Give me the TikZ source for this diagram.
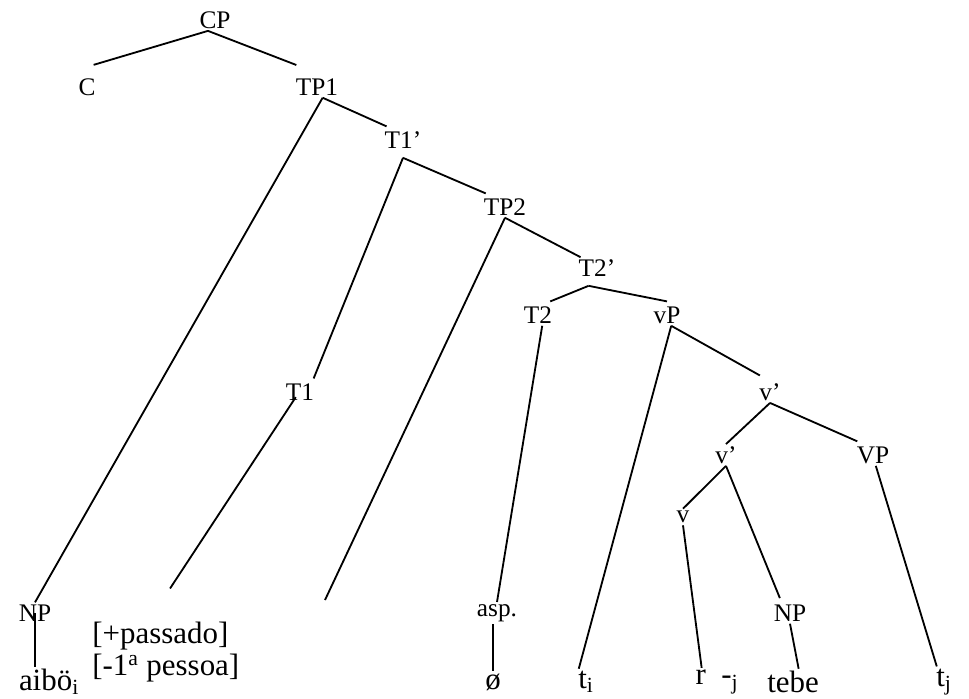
\documentclass[tikz,border=0pt]{standalone}
\usepackage{fontspec}
\setmainfont{Liberation Serif}
\usetikzlibrary{positioning}

\begin{document}
\begin{tikzpicture}[
    cat/.style={inner sep=1.5pt, font=\fontsize{18}{20}\selectfont},
    word/.style={inner sep=1.5pt, font=\fontsize{22}{22}\selectfont},
    branch/.style={line width=1.3pt}
]
\useasboundingbox (0,0) rectangle (24.225,-17.475);

% ============ UPPER SPINE ============
\node[cat] (cp) at (5.375, -0.5) {CP};
\node[cat] (c) at (2.175, -2.175) {C};
\node[cat] (tpa) at (7.925, -2.175) {TP1};
\node[cat] (tabar) at (10.075, -3.5) {T1’};
\node[cat] (tpb) at (12.625, -5.175) {TP2};
\node[cat] (tbbar) at (14.925, -6.7) {T2’};
\node[cat] (tb) at (13.45, -7.875) {T2};
\node[cat] (vsp) at (16.675, -7.875) {vP};
\node[cat] (ta) at (7.5, -9.8) {T1};

% ============ vP SHELL ============
\node[cat] (vbar) at (19.25, -9.8) {v’};
\node[cat] (vbarlow) at (18.15, -11.375) {v’};
\node[cat] (vbp) at (21.825, -11.375) {VP};
\node[cat] (vhead) at (17.075, -12.925) {v};

% ============ LOWER LABELS ============
\node[cat] (npa) at (0.875, -15.325) {NP};
\node[cat] (asp) at (12.425, -15.325) {asp.};
\node[cat] (npb) at (19.75, -15.325) {NP};
\coordinate (tpbend) at (8.125, -15.0);

% ============ LEAVES ============
\node[word] (aibo) at (1.225, -17.05) {aibö\textsubscript{i}};
\node[word, align=left, anchor=west, font=\fontsize{22}{23}\selectfont] (feat) at (2.25, -16.3) {{[+passado]}\\{[-1\textsuperscript{a} pessoa]}};
\node[word] (zero) at (12.325, -17.05) {ø};
\node[word] (ti) at (14.65, -17.05) {t\textsubscript{i}};
\node[word] (rj) at (17.925, -17.05) {r\ \ -\textsubscript{j}};
\node[word] (tebe) at (19.825, -17.05) {tebe};
\node[word] (tj) at (23.6, -17.05) {t\textsubscript{j}};

% Branches
\draw[branch] ([xshift=-5pt]cp.south) -- ([xshift=-3pt,yshift=8pt]c.north east);
\draw[branch] ([xshift=-5pt]cp.south) -- ([xshift=2pt,yshift=8pt]tpa.north west);
\draw[branch] ([xshift=4pt]tpa.south) -- (npa.north);
\draw[branch] ([xshift=4pt]tpa.south) -- ([xshift=3pt,yshift=2pt]tabar.north west);
\draw[branch] ([yshift=-5pt]tabar.south) -- ([xshift=-2pt,yshift=2pt]ta.north east);
\draw[branch] ([yshift=-5pt]tabar.south) -- ([xshift=3pt,yshift=2pt]tpb.north west);
\draw[branch] (tpb.south) -- (tpbend);
\draw[branch] (tpb.south) -- ([xshift=3pt]tbbar.north west);
\draw[branch] ([xshift=-6pt,yshift=-5pt]tbbar.south) -- ([xshift=-3pt,yshift=2pt]tb.north east);
\draw[branch] ([xshift=-6pt,yshift=-5pt]tbbar.south) -- ([yshift=2pt]vsp.north);
\draw[branch] ([xshift=3pt]tb.south) -- (asp.north);
\draw[branch] ([xshift=3pt]vsp.south) -- ([xshift=2pt]ti.north west);
\draw[branch] ([xshift=3pt]vsp.south) -- ([xshift=2pt,yshift=4pt]vbar.north west);
\draw[branch] (vbar.south) -- (vbarlow.north);
\draw[branch] (vbar.south) -- ([xshift=2pt,yshift=2pt]vbp.north west);
\draw[branch] (vbarlow.south) -- (vhead.north);
\draw[branch] (vbarlow.south) -- ([xshift=6pt,yshift=3pt]npb.north west);
\draw[branch] (vhead.south) -- ([xshift=6pt]rj.north west);
\draw[branch] (npb.south) -- ([xshift=4pt]tebe.north);
\draw[branch] ([xshift=2pt]vbp.south) -- ([xshift=2pt]tj.north west);
\draw[branch] (npa.center) -- (npa.center |- aibo.north);
\draw[branch] ([xshift=-3pt,yshift=4pt]ta.south) -- ([xshift=3pt,yshift=22pt]feat.north);
\draw[branch] (zero.north |- asp.south) -- (zero.north);

\end{tikzpicture}
\end{document}
